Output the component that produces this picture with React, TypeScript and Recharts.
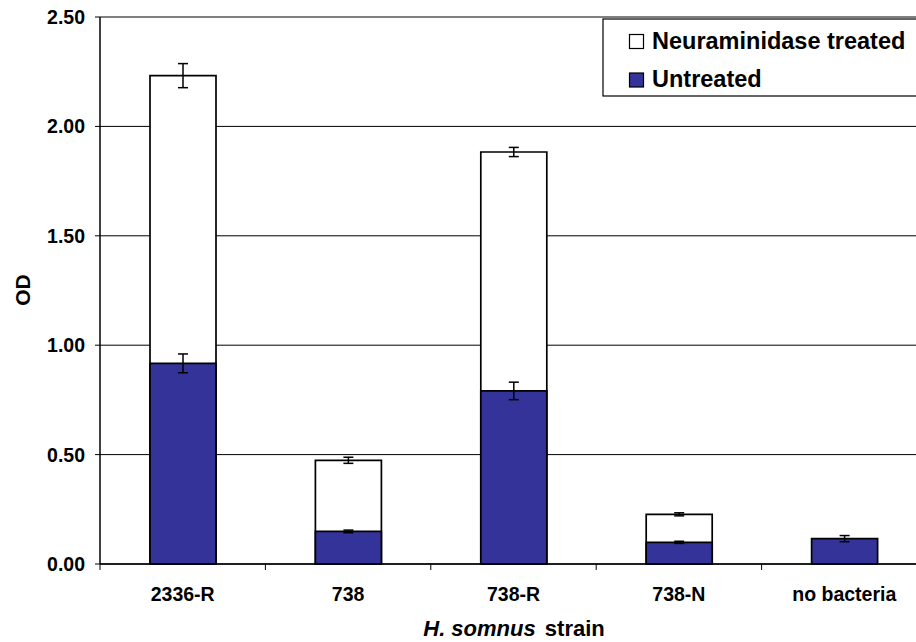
import React from 'react';
import { BarChart, Bar, XAxis, YAxis, CartesianGrid, ErrorBar } from 'recharts';

const categories = ['2336-R', '738', '738-R', '738-N', 'no bacteria'];
const treated: (number | null)[] = [2.232, 0.474, 1.883, 0.227, null];
const treatedErr: (number | null)[] = [0.055, 0.014, 0.021, 0.007, null];
const untreated = [0.917, 0.149, 0.791, 0.099, 0.116];
const untreatedErr = [0.043, 0.006, 0.04, 0.005, 0.014];
const yTicks = [0, 0.5, 1, 1.5, 2, 2.5];
const seriesNames = ['Neuraminidase treated', 'Untreated'];
const seriesColors = ['#ffffff', '#333399'];

const data = categories.map((c, i) => ({
  name: c,
  treated: treated[i],
  treatedErr: treatedErr[i],
  untreated: untreated[i],
  untreatedErr: untreatedErr[i],
}));

const FONT = '"Liberation Sans", Arial, Helvetica, sans-serif';
const X_TICK_SIZE = 6;
const X_TICK_MARGIN = 17;

const XTick = (props: any) => {
  const { x, y, payload } = props;
  const off = payload && typeof payload.offset === 'number' ? payload.offset : 0;
  const axisY = y - X_TICK_SIZE - X_TICK_MARGIN;
  return (
    <g>
      <line x1={x - off} y1={axisY} x2={x - off} y2={axisY + X_TICK_SIZE} stroke="#000" strokeWidth={1} />
      {payload.index === categories.length - 1 ? (
        <line x1={x + off} y1={axisY} x2={x + off} y2={axisY + X_TICK_SIZE} stroke="#000" strokeWidth={1} />
      ) : null}
      <text x={x} y={y} dy="0.72em" textAnchor="middle" fontFamily={FONT} fontWeight="bold" fontSize={19.5} fill="#000">
        {payload.value}
      </text>
    </g>
  );
};

const XLabel = (props: any) => {
  const vb = props.viewBox || {};
  const cx = 514;
  const y = (vb.y || 564) + 72;
  return (
    <text x={cx} y={y} textAnchor="middle" fontFamily={FONT} fontWeight="bold" fontSize={22} fill="#000">
      <tspan fontStyle="italic">H. somnus</tspan>
      <tspan dx={3}> strain</tspan>
    </text>
  );
};

const YLabel = () => (
  <text x={0} y={0} transform="translate(30 290) rotate(-90)" textAnchor="middle" fontFamily={FONT} fontWeight="bold" fontSize={21} fill="#000">
    OD
  </text>
);

export default function App() {
  return (
    <div style={{ position: 'fixed', left: 0, top: 0, width: 916, height: 642, overflow: 'hidden', background: '#fff' }}>
      <BarChart
        width={940}
        height={642}
        data={data}
        margin={{ top: 17, right: 13, bottom: 0, left: 0 }}
        barSize={66}
        barGap={-66}
      >
        <CartesianGrid vertical={false} stroke="#000" strokeWidth={1} />
        <XAxis
          dataKey="name"
          height={78}
          axisLine={{ stroke: '#000', strokeWidth: 1.5 }}
          tickLine={false}
          tickSize={X_TICK_SIZE}
          tickMargin={X_TICK_MARGIN}
          tick={<XTick />}
          interval={0}
          label={<XLabel />}
        />
        <YAxis
          width={100}
          domain={[0, 2.5]}
          ticks={yTicks}
          tickFormatter={(v: number) => v.toFixed(2)}
          axisLine={{ stroke: '#000', strokeWidth: 1.5 }}
          tickLine={{ stroke: '#000' }}
          tickSize={5}
          tickMargin={10}
          tick={{ fontFamily: FONT, fontWeight: 'bold', fontSize: 19.5, fill: '#000' }}
          label={<YLabel />}
        />
        <Bar dataKey="treated" name={seriesNames[0]} fill={seriesColors[0]} stroke="#000" strokeWidth={1.7} isAnimationActive={false}>
          <ErrorBar dataKey="treatedErr" width={5} stroke="#000" strokeWidth={1.5} direction="y" />
        </Bar>
        <Bar dataKey="untreated" name={seriesNames[1]} fill={seriesColors[1]} stroke="#000" strokeWidth={1.7} isAnimationActive={false}>
          <ErrorBar dataKey="untreatedErr" width={5} stroke="#000" strokeWidth={1.5} direction="y" />
        </Bar>
      </BarChart>
      <svg width={916} height={642} style={{ position: 'absolute', left: 0, top: 0, pointerEvents: 'none' }}>
        <rect x={603} y={19} width={330} height={77} fill="#fff" stroke="#000" strokeWidth={1.2} />
        {seriesNames.map((n, i) => (
          <g key={n}>
            <rect x={629.5} y={34.5 + i * 38.5} width={14} height={14} fill={seriesColors[i]} stroke="#000" strokeWidth={1.2} />
            <text x={652} y={48.5 + i * 38.5} fontFamily={FONT} fontWeight="bold" fontSize={23.5} fill="#000">
              {n}
            </text>
          </g>
        ))}
      </svg>
    </div>
  );
}
